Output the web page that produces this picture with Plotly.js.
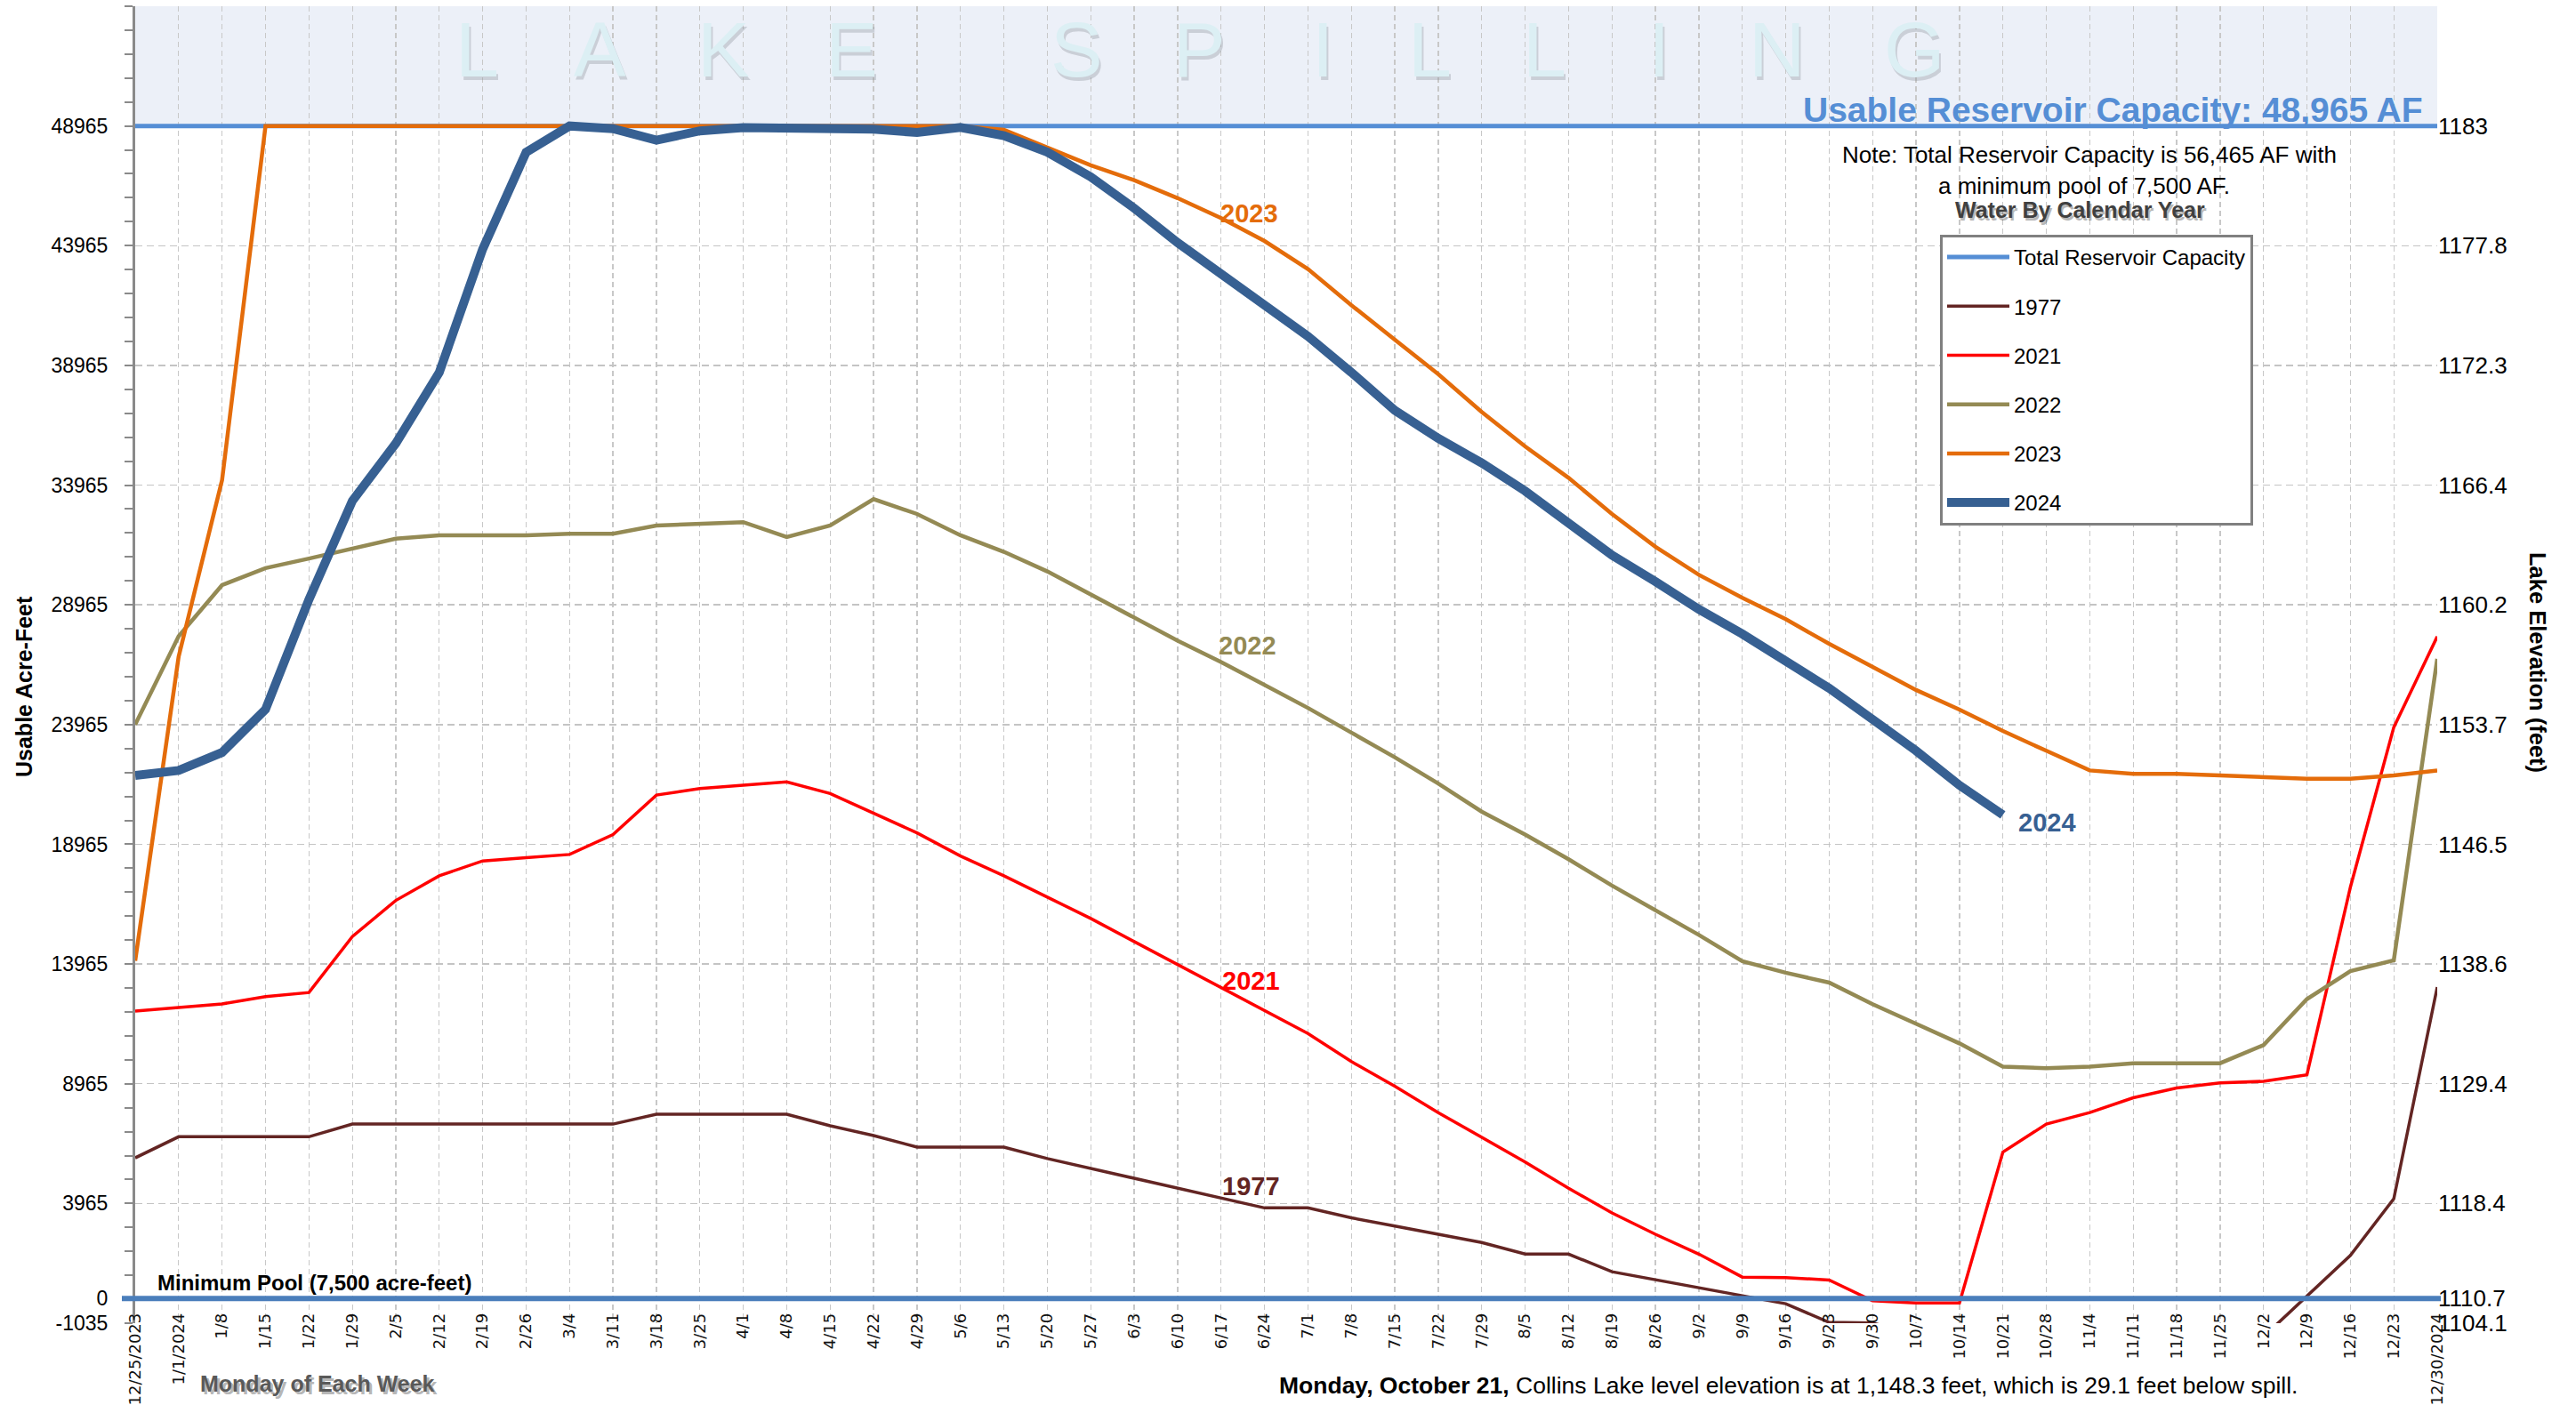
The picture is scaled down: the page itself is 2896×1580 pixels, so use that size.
<!DOCTYPE html>
<html>
<head>
<meta charset="utf-8">
<script src="https://cdn.plot.ly/plotly-3.0.1.min.js"></script>
<style>html,body{margin:0;padding:0;background:#fff;}#chart{width:2896px;height:1580px;}</style>
</head>
<body>
<div id="chart"></div>
<script>
// ---------------- DATA ----------------
const weeks = ['12/25/2023','1/1/2024','1/8','1/15','1/22','1/29','2/5','2/12','2/19','2/26','3/4','3/11','3/18','3/25','4/1','4/8','4/15','4/22','4/29','5/6','5/13','5/20','5/27','6/3','6/10','6/17','6/24','7/1','7/8','7/15','7/22','7/29','8/5','8/12','8/19','8/26','9/2','9/9','9/16','9/23','9/30','10/7','10/14','10/21','10/28','11/4','11/11','11/18','11/25','12/2','12/9','12/16','12/23','12/30/2024'];

const capacityAF = 48965;
const minPoolAF = 0;

const y1977 = [5870,6750,6750,6750,6750,7280,7280,7280,7280,7280,7280,7280,7690,7690,7690,7690,7210,6800,6320,6320,6320,5840,5425,5010,4600,4190,3780,3780,3365,3020,2680,2335,1850,1850,1115,780,457,123,-223,-1000,-1030,-1500,null,null,null,null,null,null,null,-1600,100,1795,4160,13000];

const y2021 = [12000,12150,12300,12600,12775,15110,16620,17650,18270,18410,18540,19370,21020,21290,21430,21570,21085,20260,19440,18475,17650,16760,15865,14900,13940,12980,12020,11060,9890,8860,7760,6730,5700,4600,3570,2680,1850,890,865,770,-100,-186,-186,6110,7280,7760,8380,8790,9000,9065,9340,17170,23850,27640];

const y2022 = [23965,27650,29790,30500,30900,31320,31730,31870,31870,31870,31935,31935,32280,32350,32420,31800,32280,33380,32760,31870,31180,30360,29400,28430,27470,26580,25620,24660,23630,22600,21500,20330,19370,18340,17240,16210,15180,14080,13600,13190,12290,11470,10650,9680,9615,9680,9820,9820,9820,10580,12500,13670,14120,26710];

const y2023 = [14100,26800,34180,48965,48965,48965,48965,48965,48965,48965,48965,48965,48965,48965,48965,48965,48965,48965,48965,48965,48800,48075,47320,46700,45950,45120,44160,42990,41480,40040,38600,37020,35580,34270,32760,31390,30220,29260,28365,27335,26370,25410,24590,23695,22870,22050,21910,21910,21840,21770,21700,21700,21840,22050];

const y2024 = [21840,22050,22800,24600,29190,33310,35710,38670,43820,47870,48965,48850,48370,48760,48900,48900,48900,48830,48690,48900,48560,47870,46840,45530,44090,42790,41410,40180,38670,37090,35920,34890,33720,32350,31040,29940,28780,27750,26580,25480,24180,22870,21430,20190];

const leftTickVals  = [-1035,0,3965,8965,13965,18965,23965,28965,33965,38965,43965,48965];
const leftTickText  = ['-1035','0','3965','8965','13965','18965','23965','28965','33965','38965','43965','48965'];
const rightTickText = ['1104.1','1110.7','1118.4','1129.4','1138.6','1146.5','1153.7','1160.2','1166.4','1172.3','1177.8','1183'];

const spillLetters = ['L','A','K','E','S','P','I','L','L','I','N','G'];

const yMin = -1035, yMax = 53965;

// ---------------- LAYOUT HELPERS ----------------
const W = 2896, H = 1580;
const PL = 152, PR = 2740, PT = 7, PB = 1488;
const px = X => (X - PL) / (PR - PL);
const py = Y => (PB - Y) / (PB - PT);
const yPaper = v => (v - yMin) / (yMax - yMin);

const FONT = 'Liberation Sans, Arial, sans-serif';

function ann(text, X, Y, o) {
  o = o || {};
  return Object.assign({
    text: text, xref: 'paper', yref: 'paper', x: px(X), y: py(Y),
    xanchor: 'center', yanchor: 'middle', showarrow: false,
    font: {family: FONT, size: 22, color: '#000'}
  }, o);
}

const padTo = arr => weeks.map((w, i) => (i < arr.length ? arr[i] : null));

const lineTrace = (name, y, color, width) => ({
  type: 'scatter', mode: 'lines', name: name, x: weeks, y: padTo(y),
  line: {color: color, width: width}, legendgroup: name,
  hoverinfo: 'skip', connectgaps: false
});

const traces = [
  lineTrace('Total Reservoir Capacity', weeks.map(() => capacityAF), '#558ED5', 5),
  lineTrace('1977', y1977, '#632523', 3.5),
  lineTrace('2021', y2021, '#FF0000', 3.5),
  lineTrace('2022', y2022, '#948A54', 4.5),
  lineTrace('2023', y2023, '#E46C0A', 4.5),
  lineTrace('2024', y2024, '#376092', 10),
  // empty carrier so the right-hand elevation axis is drawn
  {type: 'scatter', mode: 'lines', x: weeks, y: weeks.map(() => null), yaxis: 'y2',
   showlegend: false, hoverinfo: 'skip'}
];

const annotations = [];

// Watermark letters
const letterX = [536, 674, 813, 957, 1210, 1348, 1487, 1607, 1736, 1865, 1998, 2152];
spillLetters.forEach((ch, i) => {
  const X = letterX[i];
  annotations.push(ann(ch, X + 2, 59, {font: {family: FONT, size: 88, color: 'rgba(140,145,155,0.35)'}}));
  annotations.push(ann(ch, X, 55, {font: {family: FONT, size: 88, color: '#DCEFF4'}}));
});

annotations.push(ann('<b>Usable Reservoir Capacity: 48,965 AF</b>', 2726, 124, {xanchor: 'right', font: {family: FONT, size: 39, color: '#558ED5'}}));
annotations.push(ann('Note: Total Reservoir Capacity is 56,465 AF with', 2349, 174, {font: {family: FONT, size: 26, color: '#000'}}));
annotations.push(ann('a minimum pool of 7,500 AF.', 2343, 209, {font: {family: FONT, size: 26, color: '#000'}}));
annotations.push(ann('<b>Water By Calendar Year</b>', 2340, 239, {font: {family: FONT, size: 25, color: 'rgba(0,0,0,0.28)'}}));
annotations.push(ann('<b>Water By Calendar Year</b>', 2338, 236, {font: {family: FONT, size: 25, color: '#404040'}}));

// Series labels (data coordinates)
const lbl = (t, xi, yv, color) => ({text: '<b>' + t + '</b>', xref: 'x', yref: 'y', x: xi, y: yv, showarrow: false,
  xanchor: 'center', yanchor: 'middle', font: {family: FONT, size: 29, color: color}});
annotations.push(lbl('2023', 25.64, 45320, '#E46C0A'));
annotations.push(lbl('2022', 25.6, 27270, '#948A54'));
annotations.push(lbl('2021', 25.7, 13260, '#FF0000'));
annotations.push(lbl('1977', 25.7, 4680, '#632523'));
annotations.push(lbl('2024', 44.03, 19880, '#376092'));

annotations.push(ann('<b>Minimum Pool (7,500 acre-feet)</b>', 175, 1442, {xanchor: 'left', font: {family: FONT, size: 24, color: '#000'}}));

// Axis titles
annotations.push(ann('<b>Usable Acre-Feet</b>', 27, 772, {textangle: -90, font: {family: FONT, size: 25, color: '#000'}}));
annotations.push(ann('<b>Lake Elevation (feet)</b>', 2853, 745, {textangle: 90, font: {family: FONT, size: 25.5, color: '#000'}}));
annotations.push(ann('<b>Monday of Each Week</b>', 226, 1559, {xanchor: 'left', font: {family: FONT, size: 25, color: 'rgba(0,0,0,0.3)'}}));
annotations.push(ann('<b>Monday of Each Week</b>', 223, 1556, {xanchor: 'left', font: {family: FONT, size: 25, color: '#595959'}}));

annotations.push(ann('<b>Monday, October 21,</b> Collins Lake level elevation is at 1,148.3 feet, which is 29.1 feet below spill.', 2010, 1558, {font: {family: FONT, size: 26.5, color: '#000'}}));

const shapes = [
  {type: 'rect', xref: 'paper', yref: 'paper', x0: 0, x1: 1, y0: yPaper(capacityAF), y1: 1,
   fillcolor: '#ECF0F8', line: {width: 0}, layer: 'below'},
  {type: 'line', xref: 'paper', yref: 'paper', x0: px(137), x1: px(2744), y0: yPaper(minPoolAF), y1: yPaper(minPoolAF),
   line: {color: '#4A7EBB', width: 6}, layer: 'above'}
];

const layout = {
  width: W, height: H,
  margin: {l: PL, r: W - PR, t: PT, b: H - PB, pad: 0},
  paper_bgcolor: '#fff', plot_bgcolor: '#fff',
  showlegend: true,
  legend: {
    x: px(2181), y: py(264), xanchor: 'left', yanchor: 'top',
    bgcolor: '#fff', bordercolor: '#808080', borderwidth: 3,
    font: {family: FONT, size: 24, color: '#000'},
    tracegroupgap: 21, itemwidth: 70
  },
  xaxis: {
    type: 'category', range: [0, weeks.length - 1],
    anchor: 'free', position: yPaper(0),
    tickangle: -90, tickfont: {family: 'DejaVu Sans, sans-serif', size: 18, color: '#111'},
    ticks: '', showline: false, zeroline: false,
    showgrid: true, gridcolor: '#C8C8C8', gridwidth: 1.3, griddash: '6px,4px',
    ticklabelstandoff: 12, automargin: false, fixedrange: true
  },
  yaxis: {
    range: [yMin, yMax], tickmode: 'array', tickvals: leftTickVals, ticktext: leftTickText,
    tickfont: {family: FONT, size: 23, color: '#000'},
    showgrid: true, gridcolor: '#C4C4C4', gridwidth: 1.5, griddash: '8px,5px',
    zeroline: false, showline: true, linecolor: '#8A8A8A', linewidth: 3,
    ticks: 'outside', ticklen: 9, tickwidth: 2, tickcolor: '#8A8A8A',
    minor: {ticks: 'outside', ticklen: 9, tickwidth: 2, tickcolor: '#8A8A8A', dtick: 1000, tick0: 965, showgrid: false},
    ticklabelstandoff: 14, automargin: false, fixedrange: true
  },
  yaxis2: {
    overlaying: 'y', side: 'right', anchor: 'x',
    range: [yMin, yMax], tickmode: 'array', tickvals: leftTickVals, ticktext: rightTickText,
    tickfont: {family: FONT, size: 26, color: '#000'},
    showgrid: false, zeroline: false, showline: false, ticks: '',
    ticklabelstandoff: 0, automargin: false, fixedrange: true
  },
  shapes: shapes,
  annotations: annotations,
  hovermode: false
};

Plotly.newPlot('chart', traces, layout, {displayModeBar: false, staticPlot: true});
</script>
</body>
</html>
